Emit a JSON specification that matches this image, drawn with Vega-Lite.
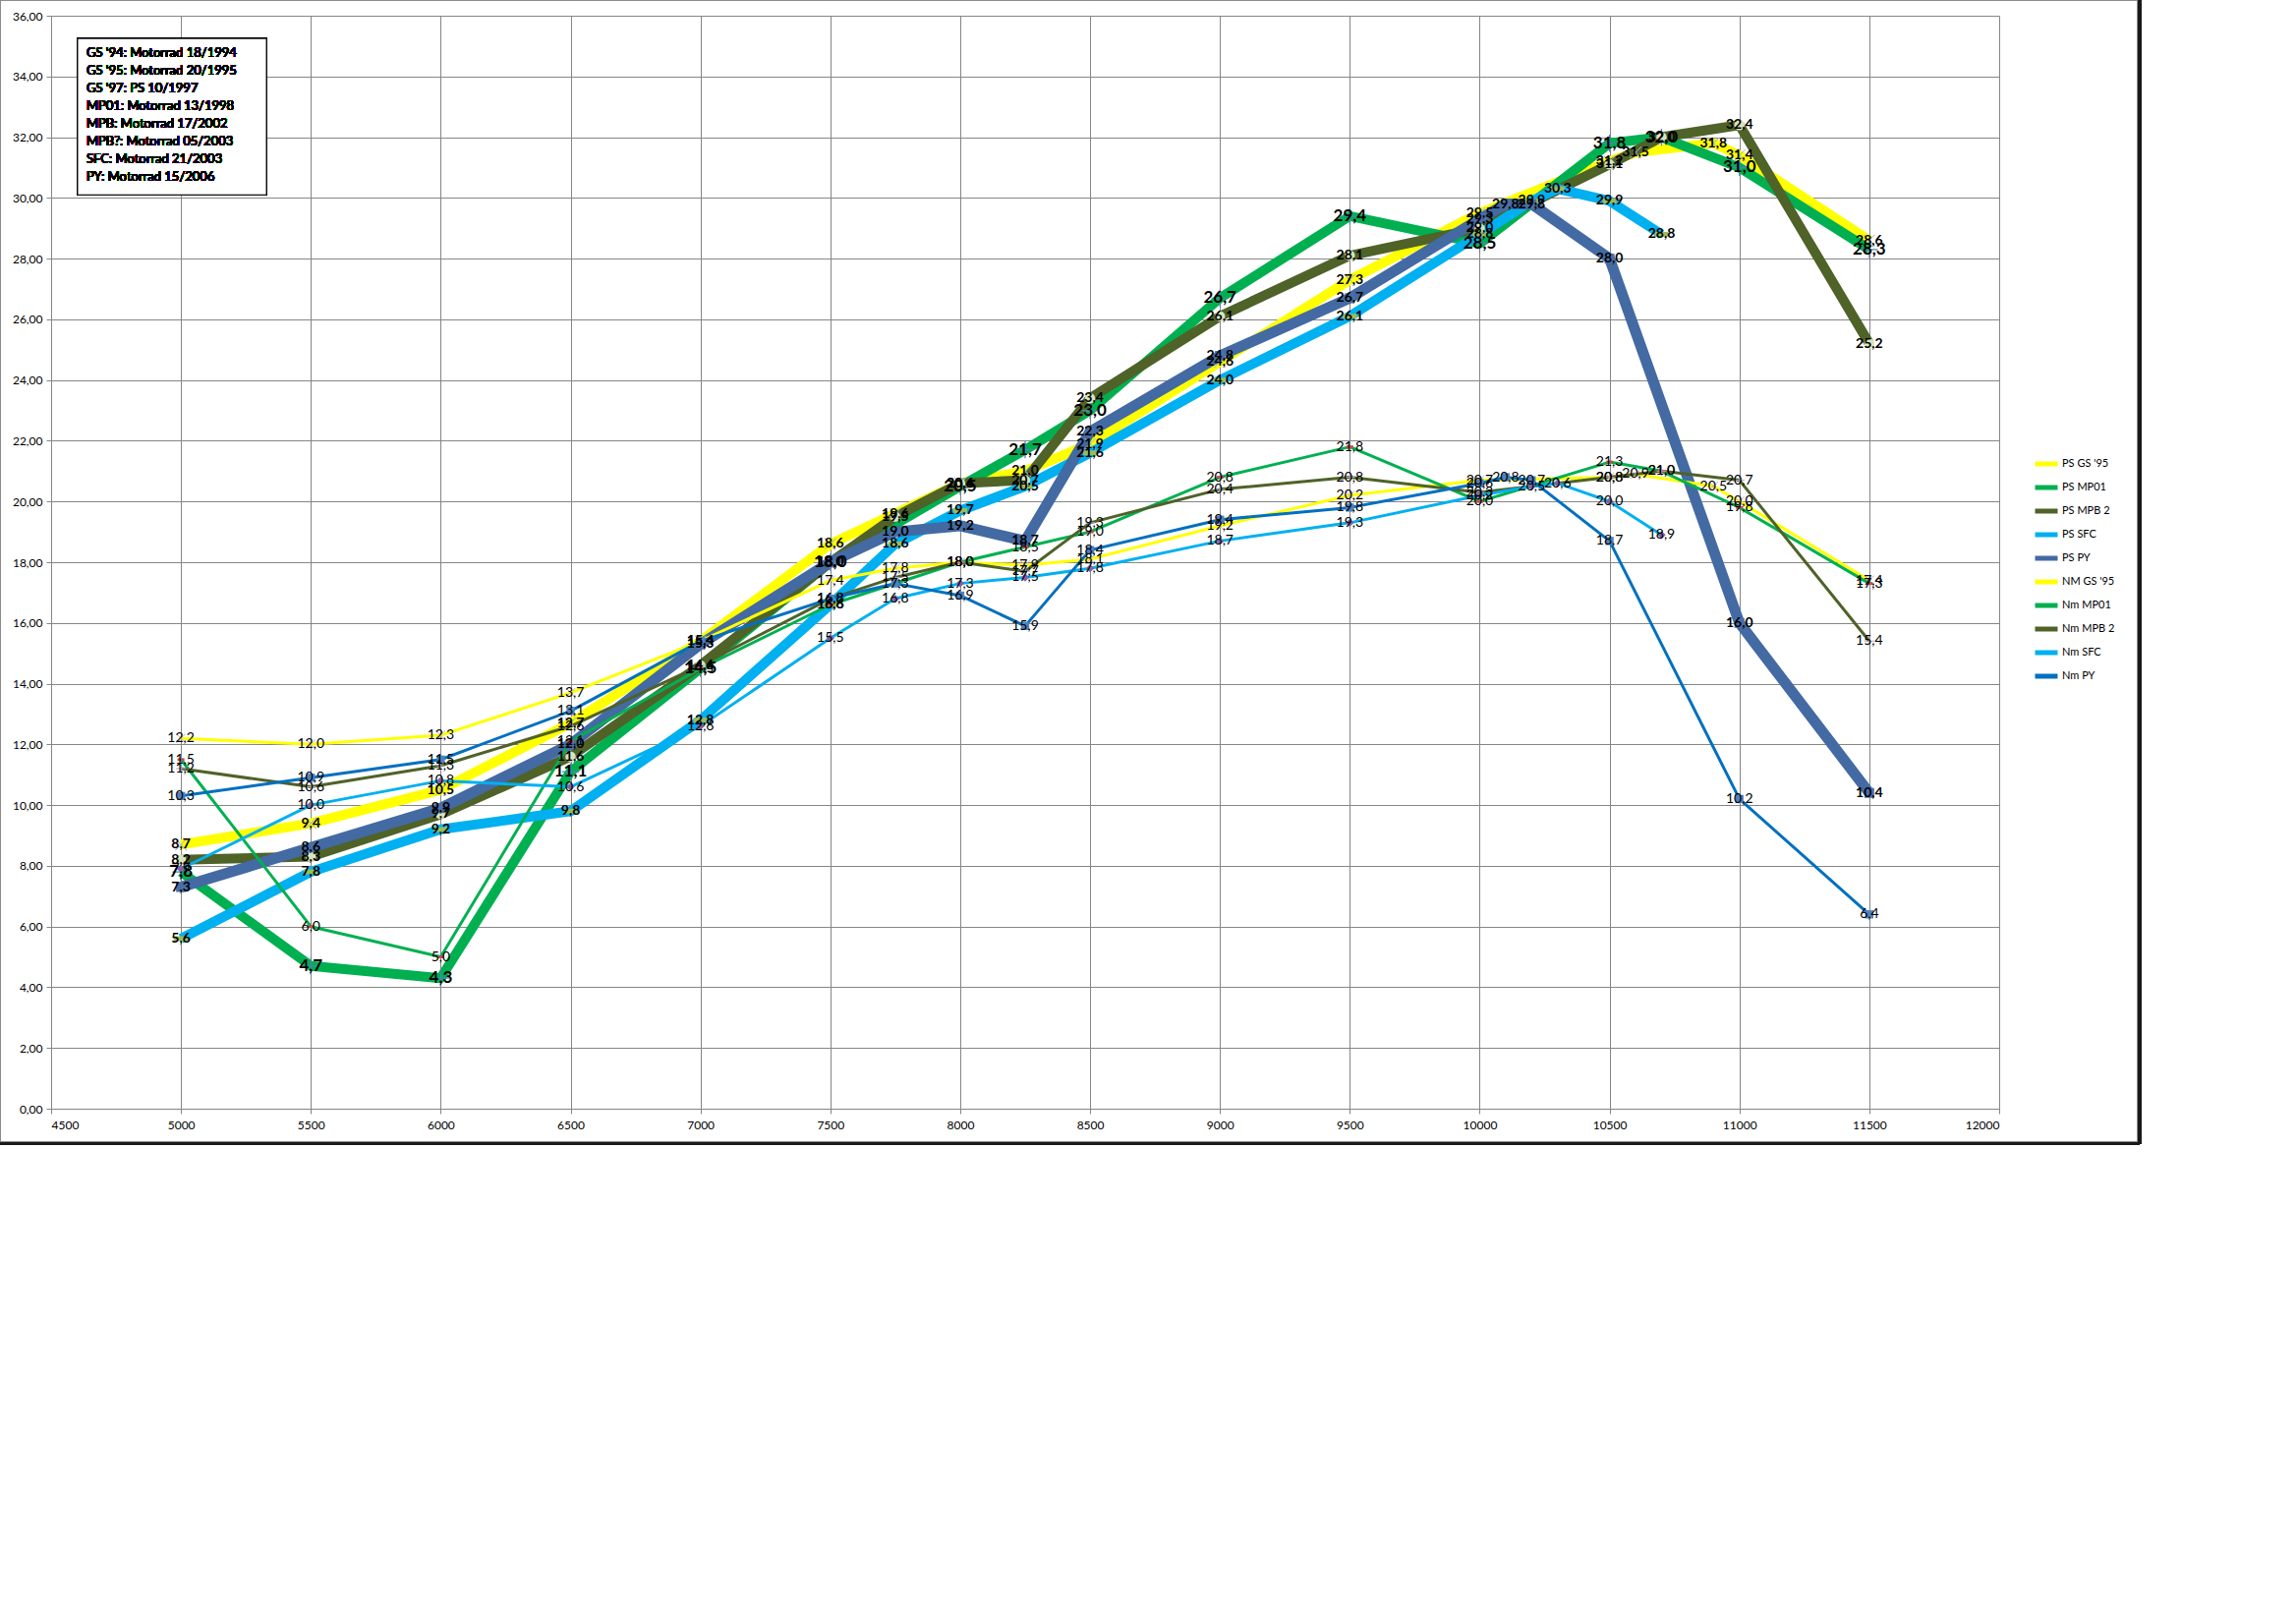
{
  "$schema": "https://vega.github.io/schema/vega-lite/v6.json",
  "width": 1982,
  "height": 1112,
  "autosize": "none",
  "padding": {"left": 52, "top": 16, "right": 302, "bottom": 508},
  "background": "white",
  "config": {
    "view": {"stroke": null},
    "font": "Lato"
  },
  "data": {"values": [
    {"s":"PS GS '95","x":5000,"y":8.7},{"s":"PS GS '95","x":5500,"y":9.4},{"s":"PS GS '95","x":6000,"y":10.5},{"s":"PS GS '95","x":6500,"y":12.7},{"s":"PS GS '95","x":7000,"y":15.4},{"s":"PS GS '95","x":7500,"y":18.6},{"s":"PS GS '95","x":7750,"y":19.6},{"s":"PS GS '95","x":8000,"y":20.6},{"s":"PS GS '95","x":8250,"y":21.0},{"s":"PS GS '95","x":8500,"y":21.9},{"s":"PS GS '95","x":9000,"y":24.6},{"s":"PS GS '95","x":9500,"y":27.3},{"s":"PS GS '95","x":10000,"y":29.5},{"s":"PS GS '95","x":10500,"y":31.2},{"s":"PS GS '95","x":10600,"y":31.5},{"s":"PS GS '95","x":10900,"y":31.8},{"s":"PS GS '95","x":11000,"y":31.4},{"s":"PS GS '95","x":11500,"y":28.6},

    {"s":"PS MP01","x":5000,"y":7.8},{"s":"PS MP01","x":5500,"y":4.7},{"s":"PS MP01","x":6000,"y":4.3},{"s":"PS MP01","x":6500,"y":11.1},{"s":"PS MP01","x":7000,"y":14.5},{"s":"PS MP01","x":7500,"y":18.0},{"s":"PS MP01","x":8000,"y":20.5},{"s":"PS MP01","x":8250,"y":21.7},{"s":"PS MP01","x":8500,"y":23.0},{"s":"PS MP01","x":9000,"y":26.7},{"s":"PS MP01","x":9500,"y":29.4},{"s":"PS MP01","x":10000,"y":28.5},{"s":"PS MP01","x":10500,"y":31.8},{"s":"PS MP01","x":10700,"y":32.0},{"s":"PS MP01","x":11000,"y":31.0},{"s":"PS MP01","x":11500,"y":28.3},

    {"s":"PS MPB 2","x":5000,"y":8.2},{"s":"PS MPB 2","x":5500,"y":8.3},{"s":"PS MPB 2","x":6000,"y":9.7},{"s":"PS MPB 2","x":6500,"y":11.6},{"s":"PS MPB 2","x":7000,"y":14.6},{"s":"PS MPB 2","x":7500,"y":18.0},{"s":"PS MPB 2","x":7750,"y":19.5},{"s":"PS MPB 2","x":8000,"y":20.6},{"s":"PS MPB 2","x":8250,"y":20.7},{"s":"PS MPB 2","x":8500,"y":23.4},{"s":"PS MPB 2","x":9000,"y":26.1},{"s":"PS MPB 2","x":9500,"y":28.1},{"s":"PS MPB 2","x":10000,"y":29.0},{"s":"PS MPB 2","x":10500,"y":31.1},{"s":"PS MPB 2","x":10700,"y":32.0},{"s":"PS MPB 2","x":11000,"y":32.4},{"s":"PS MPB 2","x":11500,"y":25.2},

    {"s":"PS SFC","x":5000,"y":5.6},{"s":"PS SFC","x":5500,"y":7.8},{"s":"PS SFC","x":6000,"y":9.2},{"s":"PS SFC","x":6500,"y":9.8},{"s":"PS SFC","x":7000,"y":12.8},{"s":"PS SFC","x":7500,"y":16.6},{"s":"PS SFC","x":7750,"y":18.6},{"s":"PS SFC","x":8000,"y":19.7},{"s":"PS SFC","x":8250,"y":20.5},{"s":"PS SFC","x":8500,"y":21.6},{"s":"PS SFC","x":9000,"y":24.0},{"s":"PS SFC","x":9500,"y":26.1},{"s":"PS SFC","x":10000,"y":28.8},{"s":"PS SFC","x":10200,"y":29.9},{"s":"PS SFC","x":10300,"y":30.3},{"s":"PS SFC","x":10500,"y":29.9},{"s":"PS SFC","x":10700,"y":28.8},

    {"s":"PS PY","x":5000,"y":7.3},{"s":"PS PY","x":5500,"y":8.6},{"s":"PS PY","x":6000,"y":9.9},{"s":"PS PY","x":6500,"y":12.0},{"s":"PS PY","x":7000,"y":15.3},{"s":"PS PY","x":7500,"y":18.0},{"s":"PS PY","x":7750,"y":19.0},{"s":"PS PY","x":8000,"y":19.2},{"s":"PS PY","x":8250,"y":18.7},{"s":"PS PY","x":8500,"y":22.3},{"s":"PS PY","x":9000,"y":24.8},{"s":"PS PY","x":9500,"y":26.7},{"s":"PS PY","x":10000,"y":29.3},{"s":"PS PY","x":10100,"y":29.8},{"s":"PS PY","x":10200,"y":29.8},{"s":"PS PY","x":10500,"y":28.0},{"s":"PS PY","x":11000,"y":16.0},{"s":"PS PY","x":11500,"y":10.4},

    {"s":"NM GS '95","x":5000,"y":12.2},{"s":"NM GS '95","x":5500,"y":12.0},{"s":"NM GS '95","x":6000,"y":12.3},{"s":"NM GS '95","x":6500,"y":13.7},{"s":"NM GS '95","x":7000,"y":15.4},{"s":"NM GS '95","x":7500,"y":17.4},{"s":"NM GS '95","x":7750,"y":17.8},{"s":"NM GS '95","x":8000,"y":18.0},{"s":"NM GS '95","x":8250,"y":17.9},{"s":"NM GS '95","x":8500,"y":18.1},{"s":"NM GS '95","x":9000,"y":19.2},{"s":"NM GS '95","x":9500,"y":20.2},{"s":"NM GS '95","x":10000,"y":20.7},{"s":"NM GS '95","x":10500,"y":20.8},{"s":"NM GS '95","x":10600,"y":20.9},{"s":"NM GS '95","x":10900,"y":20.5},{"s":"NM GS '95","x":11000,"y":20.0},{"s":"NM GS '95","x":11500,"y":17.4},

    {"s":"Nm MP01","x":5000,"y":11.5},{"s":"Nm MP01","x":5500,"y":6.0},{"s":"Nm MP01","x":6000,"y":5.0},{"s":"Nm MP01","x":6500,"y":12.1},{"s":"Nm MP01","x":7000,"y":14.5},{"s":"Nm MP01","x":7500,"y":16.6},{"s":"Nm MP01","x":8000,"y":18.0},{"s":"Nm MP01","x":8250,"y":18.5},{"s":"Nm MP01","x":8500,"y":19.0},{"s":"Nm MP01","x":9000,"y":20.8},{"s":"Nm MP01","x":9500,"y":21.8},{"s":"Nm MP01","x":10000,"y":20.0},{"s":"Nm MP01","x":10500,"y":21.3},{"s":"Nm MP01","x":10700,"y":21.0},{"s":"Nm MP01","x":11000,"y":19.8},{"s":"Nm MP01","x":11500,"y":17.3},

    {"s":"Nm MPB 2","x":5000,"y":11.2},{"s":"Nm MPB 2","x":5500,"y":10.6},{"s":"Nm MPB 2","x":6000,"y":11.3},{"s":"Nm MPB 2","x":6500,"y":12.6},{"s":"Nm MPB 2","x":7000,"y":14.6},{"s":"Nm MPB 2","x":7500,"y":16.8},{"s":"Nm MPB 2","x":7750,"y":17.5},{"s":"Nm MPB 2","x":8000,"y":18.0},{"s":"Nm MPB 2","x":8250,"y":17.7},{"s":"Nm MPB 2","x":8500,"y":19.3},{"s":"Nm MPB 2","x":9000,"y":20.4},{"s":"Nm MPB 2","x":9500,"y":20.8},{"s":"Nm MPB 2","x":10000,"y":20.3},{"s":"Nm MPB 2","x":10500,"y":20.8},{"s":"Nm MPB 2","x":10700,"y":21.0},{"s":"Nm MPB 2","x":11000,"y":20.7},{"s":"Nm MPB 2","x":11500,"y":15.4},

    {"s":"Nm SFC","x":5000,"y":7.9},{"s":"Nm SFC","x":5500,"y":10.0},{"s":"Nm SFC","x":6000,"y":10.8},{"s":"Nm SFC","x":6500,"y":10.6},{"s":"Nm SFC","x":7000,"y":12.6},{"s":"Nm SFC","x":7500,"y":15.5},{"s":"Nm SFC","x":7750,"y":16.8},{"s":"Nm SFC","x":8000,"y":17.3},{"s":"Nm SFC","x":8250,"y":17.5},{"s":"Nm SFC","x":8500,"y":17.8},{"s":"Nm SFC","x":9000,"y":18.7},{"s":"Nm SFC","x":9500,"y":19.3},{"s":"Nm SFC","x":10000,"y":20.2},{"s":"Nm SFC","x":10200,"y":20.5},{"s":"Nm SFC","x":10300,"y":20.6},{"s":"Nm SFC","x":10500,"y":20.0},{"s":"Nm SFC","x":10700,"y":18.9},

    {"s":"Nm PY","x":5000,"y":10.3},{"s":"Nm PY","x":5500,"y":10.9},{"s":"Nm PY","x":6000,"y":11.5},{"s":"Nm PY","x":6500,"y":13.1},{"s":"Nm PY","x":7000,"y":15.4},{"s":"Nm PY","x":7500,"y":16.8},{"s":"Nm PY","x":7750,"y":17.3},{"s":"Nm PY","x":8000,"y":16.9},{"s":"Nm PY","x":8250,"y":15.9},{"s":"Nm PY","x":8500,"y":18.4},{"s":"Nm PY","x":9000,"y":19.4},{"s":"Nm PY","x":9500,"y":19.8},{"s":"Nm PY","x":10000,"y":20.6},{"s":"Nm PY","x":10100,"y":20.8},{"s":"Nm PY","x":10200,"y":20.7},{"s":"Nm PY","x":10500,"y":18.7},{"s":"Nm PY","x":11000,"y":10.2},{"s":"Nm PY","x":11500,"y":6.4}
  ]},
  "transform": [
    {"calculate": "replace(format(datum.y, '.1f'), '.', ',')", "as": "lbl"},
    {"calculate": "'pt ' + datum.s", "as": "m"},
    {"calculate": "'w ' + datum.s", "as": "w"}
  ],
  "encoding": {
    "x": {"field": "x", "type": "quantitative", "scale": {"domain": [4500, 12000], "nice": false, "zero": false},
      "axis": {"title": null, "orient": "bottom", "values": [4500,5000,5500,6000,6500,7000,7500,8000,8500,9000,9500,10000,10500,11000,11500,12000], "format": "d", "grid": true, "gridColor": "#868686", "gridWidth": 1, "domainColor": "#868686", "tickColor": "#868686", "tickSize": 5, "labelFont": "Lato", "labelFontSize": 12, "labelColor": "#000000", "labelPadding": 6}},
    "y": {"field": "y", "type": "quantitative", "scale": {"domain": [0, 36], "nice": false, "zero": false},
      "axis": {"title": null, "values": [0,2,4,6,8,10,12,14,16,18,20,22,24,26,28,30,32,34,36], "labelExpr": "replace(format(datum.value, '.2f'), '.', ',')", "grid": true, "gridColor": "#868686", "gridWidth": 1, "domainColor": "#868686", "tickColor": "#868686", "tickSize": 5, "labelFont": "Lato", "labelFontSize": 12, "labelColor": "#000000", "labelPadding": 4}}
  },
  "layer": [
    {
      "mark": {"type": "rect", "fill": null, "stroke": "#8c8c8c", "strokeWidth": 1, "clip": false},
      "encoding": {"x": {"datum": 4303}, "x2": {"datum": 12535}, "y": {"datum": 36.52}, "y2": {"datum": -1.1}}
    },
    {
      "mark": {"type": "rule", "stroke": "#1a1a1a", "strokeWidth": 3, "clip": false},
      "encoding": {"x": {"datum": 4303}, "x2": {"datum": 12540}, "y": {"datum": -1.15}}
    },
    {
      "mark": {"type": "rule", "stroke": "#1a1a1a", "strokeWidth": 3, "clip": false},
      "encoding": {"x": {"datum": 12540}, "y": {"datum": 36.52}, "y2": {"datum": -1.15}}
    },
    {
      "mark": {"type": "line", "strokeCap": "butt", "strokeJoin": "round"},
      "encoding": {
        "stroke": {"field": "s", "type": "nominal",
          "scale": {"domain": ["PS GS '95","PS MP01","PS MPB 2","PS SFC","PS PY","NM GS '95","Nm MP01","Nm MPB 2","Nm SFC","Nm PY"],
                    "range": ["#FFFF00","#00B050","#4F6228","#00B0F0","#436AA3","#FFFF00","#00B050","#4F6228","#00B0F0","#0070C0"]},
          "legend": {"title": null, "orient": "none", "legendX": 2016, "legendY": 442, "symbolType": "stroke", "symbolSize": 529, "symbolStrokeWidth": 5, "labelFont": "Lato", "labelFontSize": 11, "labelColor": "#000000", "rowPadding": 0, "labelOffset": 2}},
        "strokeWidth": {"field": "w", "type": "nominal", "legend": null,
          "scale": {"type": "ordinal", "domain": ["w PS GS '95","w PS MP01","w PS MPB 2","w PS SFC","w PS PY","w NM GS '95","w Nm MP01","w Nm MPB 2","w Nm SFC","w Nm PY"],
                    "range": [10,10,10,10,11,3,3,3,3,3]}}
      }
    },
    {
      "mark": {"type": "point", "filled": true, "strokeWidth": 0, "opacity": 1},
      "encoding": {
        "shape": {"field": "m", "type": "nominal", "legend": null,
          "scale": {"domain": ["pt PS GS '95","pt PS MP01","pt PS MPB 2","pt PS SFC","pt PS PY","pt NM GS '95","pt Nm MP01","pt Nm MPB 2","pt Nm SFC","pt Nm PY"],
                    "range": ["M-0.9,-1L0,-0.1L0.9,-1L1,-0.9L0.1,0L1,0.9L0.9,1L0,0.1L-0.9,1L-1,0.9L-0.1,0L-1,-0.9Z",
                              "M-1,-0.07H-0.07V-1H0.07V-0.07H1V0.07H0.07V1H-0.07V0.07H-1Z",
                              "circle",
                              "M-1,-0.35H1V0.35H-1Z",
                              "square",
                              "M-0.9,-1L0,-0.1L0.9,-1L1,-0.9L0.1,0L1,0.9L0.9,1L0,0.1L-0.9,1L-1,0.9L-0.1,0L-1,-0.9Z",
                              "M-1,-0.4H1V0.4H-1Z",
                              "M-1,-0.1H-0.1V-1H0.1V-0.1H1V0.1H0.1V1H-0.1V0.1H-1Z",
                              "diamond",
                              "square"]}},
        "fill": {"field": "m", "type": "nominal", "legend": null,
          "scale": {"domain": ["pt PS GS '95","pt PS MP01","pt PS MPB 2","pt PS SFC","pt PS PY","pt NM GS '95","pt Nm MP01","pt Nm MPB 2","pt Nm SFC","pt Nm PY"],
                    "range": ["#9DB3CF","#4F81BD","#D7E4BD","#9BBB59","#4A6FA8","#C9A6B8","#C0504D","#B3A2C7","#8064A2","#4F81BD"]}},
        "size": {"field": "m", "type": "nominal", "legend": null,
          "scale": {"type": "ordinal", "domain": ["pt PS GS '95","pt PS MP01","pt PS MPB 2","pt PS SFC","pt PS PY","pt NM GS '95","pt Nm MP01","pt Nm MPB 2","pt Nm SFC","pt Nm PY"],
                    "range": [150,300,110,200,100,100,50,100,70,70]}}
      }
    },
    {
      "transform": [{"filter": "indexof(datum.s, 'PS') !== 0"}],
      "mark": {"type": "text", "font": "Lato", "fontSize": 14, "fontWeight": "normal", "color": "#000000", "align": "center", "baseline": "middle"},
      "encoding": {"text": {"field": "lbl", "type": "nominal"}}
    },
    {
      "transform": [{"filter": "indexof(datum.s, 'PS') === 0 && datum.s !== 'PS MP01'"}],
      "mark": {"type": "text", "font": "Lato", "fontSize": 14, "fontWeight": "bold", "color": "#000000", "align": "center", "baseline": "middle"},
      "encoding": {"text": {"field": "lbl", "type": "nominal"}}
    },
    {
      "transform": [{"filter": "datum.s === 'PS MP01'"}],
      "mark": {"type": "text", "font": "Lato", "fontSize": 17, "fontWeight": "bold", "color": "#000000", "align": "center", "baseline": "middle"},
      "encoding": {"text": {"field": "lbl", "type": "nominal"}}
    },
    {
      "mark": {"type": "rect", "fill": "#FFFFFF", "stroke": "#000000", "strokeWidth": 1, "clip": false},
      "encoding": {"x": {"datum": 4602}, "x2": {"datum": 5329}, "y": {"datum": 35.25}, "y2": {"datum": 30.1}}
    },
    {
      "mark": {"type": "text", "font": "Lato", "fontSize": 13, "color": "#000000", "align": "left", "baseline": "middle", "lineHeight": 18,
        "text": ["GS '94: Motorrad 18/1994", "GS '95: Motorrad 20/1995", "GS '97: PS 10/1997", "MP01: Motorrad 13/1998", "MPB: Motorrad 17/2002", "MPB?: Motorrad 05/2003", "SFC: Motorrad 21/2003", "PY: Motorrad 15/2006"]},
      "encoding": {"x": {"datum": 4636}, "y": {"datum": 34.76}}
    }
  ]
}
